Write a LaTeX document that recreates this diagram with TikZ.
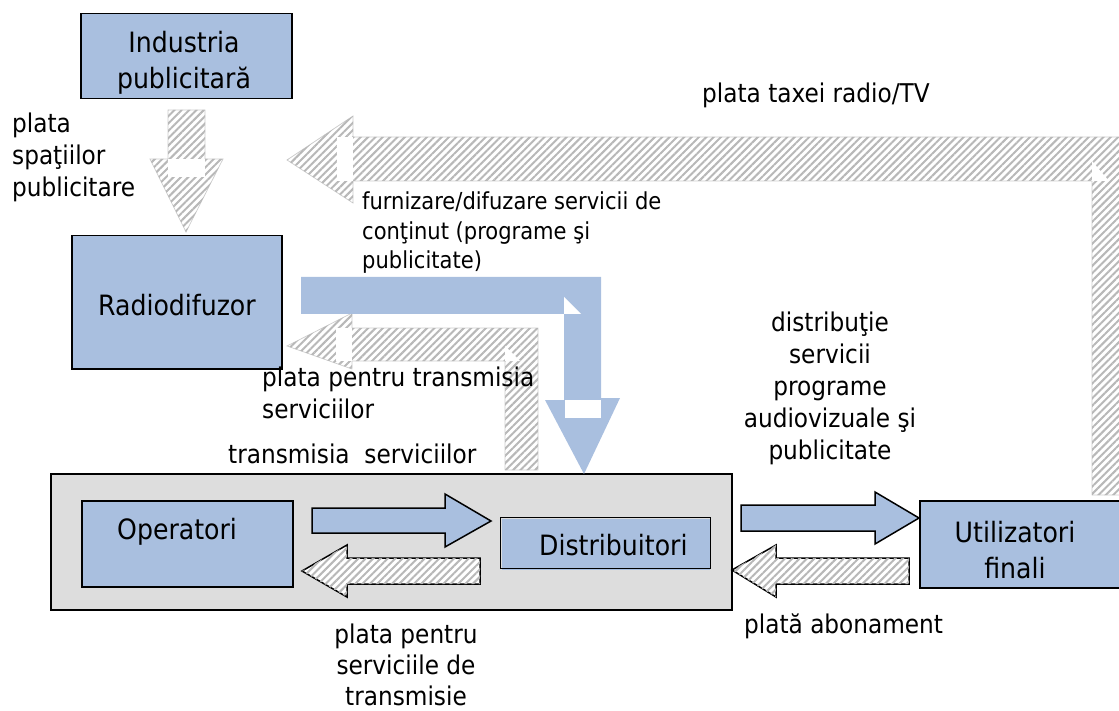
\documentclass[tikz,border=0pt]{standalone}
\usepackage{fontspec}
\setmainfont{DejaVu Sans Condensed}
\usetikzlibrary{patterns.meta}
\definecolor{bl}{HTML}{A9BFDF}
\definecolor{gb}{HTML}{DDDDDD}
\definecolor{ht}{HTML}{B8B8B8}
\tikzset{
 x=1pt,y=-1pt,
 boxb/.style={draw=black,line width=1.5pt,fill=bl},
 hatchf/.style={fill=white,postaction={pattern={Lines[angle=45,distance=5.2pt,line width=2pt]},pattern color=ht}},
 hatchg/.style={hatchf,draw=ht!70,line width=.7pt},
 hatchb/.style={hatchf,draw=black,line width=1.5pt},
 blueb/.style={fill=bl,draw=black,line width=1.5pt},
 bluep/.style={fill=bl},
 notch/.style={fill=white},
 big/.style={font=\fontsize{28}{36}\selectfont,align=center,inner sep=0pt},
 bigl/.style={font=\fontsize{25.8}{32}\selectfont,align=left,inner sep=0pt},
 small/.style={font=\fontsize{23.4}{29.5}\selectfont,align=left,inner sep=0pt},
}
\begin{document}
\begin{tikzpicture}
\useasboundingbox (0,0) rectangle (1119,711);
\clip (0,0) rectangle (1119,711);
% grey container
\node[draw=black,line width=1.5pt,fill=gb,minimum width=681pt,minimum height=136pt,inner sep=0pt,anchor=north west] (cont) at (50,473) {};
% boxes
\node[boxb,minimum width=211pt,minimum height=85pt,anchor=north west] (ind) at (80,13) {};
\node[big] (indtx) at (184,63) {Industria\\publicitară};
\node[boxb,minimum width=210pt,minimum height=133pt,anchor=north west] (rad) at (71,235) {};
\node[big,anchor=base] (radtx) at (177,316) {Radiodifuzor};
\node[boxb,minimum width=211pt,minimum height=86pt,anchor=north west] (op) at (81,500) {};
\node[big,anchor=base west] (optx) at (117,539) {Operatori};
\fill[bl] (502,519) rectangle (710,570);
\node[draw=black,line width=1.3pt,minimum width=210pt,minimum height=51pt,anchor=north west] (dist) at (500,517) {};
\node[big,anchor=base west] (disttx) at (539,555) {Distribuitori};
\node[boxb,minimum width=220pt,minimum height=87pt,anchor=north west] (ut) at (919,500) {};
\node[big,anchor=center] (uttx) at (1015,550) {Utilizatori\\finali};
% top hatched arrow
\path[hatchg] (287,160) -- (353,116) -- (353,137) -- (1130,137) -- (1130,495) -- (1092,495) -- (1092,181) -- (353,181) -- (353,203) -- cycle;
\fill[notch] (337,137) rectangle (353,181);
\fill[notch] (1092,161) -- (1109,181) -- (1092,181) -- cycle;
% mid hatched arrow
\path[hatchg] (287,346) -- (352,313) -- (352,328) -- (538,328) -- (538,470) -- (505,470) -- (505,361) -- (352,361) -- (352,369) -- cycle;
\fill[notch] (336,328) rectangle (352,361);
\fill[notch] (505,346) -- (520,361) -- (505,361) -- cycle;
% blue bent arrow
\path[bluep] (301,277) -- (601,277) -- (601,398) -- (620,398) -- (584,474) -- (545,400) -- (564,400) -- (564,314) -- (301,314) -- cycle;
\fill[notch] (564,297) -- (581,314) -- (564,314) -- cycle;
\fill[notch] (565,400) rectangle (601,418);
% down hatched arrow
\path[hatchg] (168,110) -- (205,110) -- (205,159) -- (223,159) -- (186,232) -- (150,159) -- (168,159) -- cycle;
\fill[notch] (168,159) rectangle (205,177);
% inner arrows
\path[blueb] (312,508) -- (445,508) -- (445,494) -- (491,521) -- (445,547) -- (445,533) -- (312,533) -- cycle;
\path[hatchb] (302,571) -- (347,545) -- (347,558) -- (480,558) -- (480,584) -- (347,584) -- (347,597) -- cycle;
\path[blueb] (741,505) -- (875,505) -- (875,492) -- (919,518) -- (875,544) -- (875,531) -- (741,531) -- cycle;
\path[hatchb] (732,570) -- (776,545) -- (776,558) -- (909,558) -- (909,584) -- (776,584) -- (776,597) -- cycle;
% labels
\node[bigl,anchor=west] (l1) at (12,157) {plata\\spaţiilor\\publicitare};
\node[bigl,anchor=base west] (l2) at (702,103) {plata taxei radio/TV};
\node[small,anchor=west] (l3) at (362,233) {furnizare/difuzare servicii de\\conţinut (programe şi\\publicitate)};
\node[bigl,anchor=west] (l4) at (262,393) {plata pentru transmisia\\serviciilor};
\node[bigl,anchor=base west] (l5) at (228,463) {transmisia\ \ serviciilor};
\node[bigl,align=center] (l6) at (830,388) {distribuţie\\servicii\\programe\\audiovizuale şi\\publicitate};
\node[bigl,anchor=base west] (l7) at (744,633) {plată abonament};
\node[bigl,align=center,font=\fontsize{25.8}{31}\selectfont] (l8) at (406,665) {plata pentru\\serviciile de\\transmisie};
\end{tikzpicture}
\end{document}
